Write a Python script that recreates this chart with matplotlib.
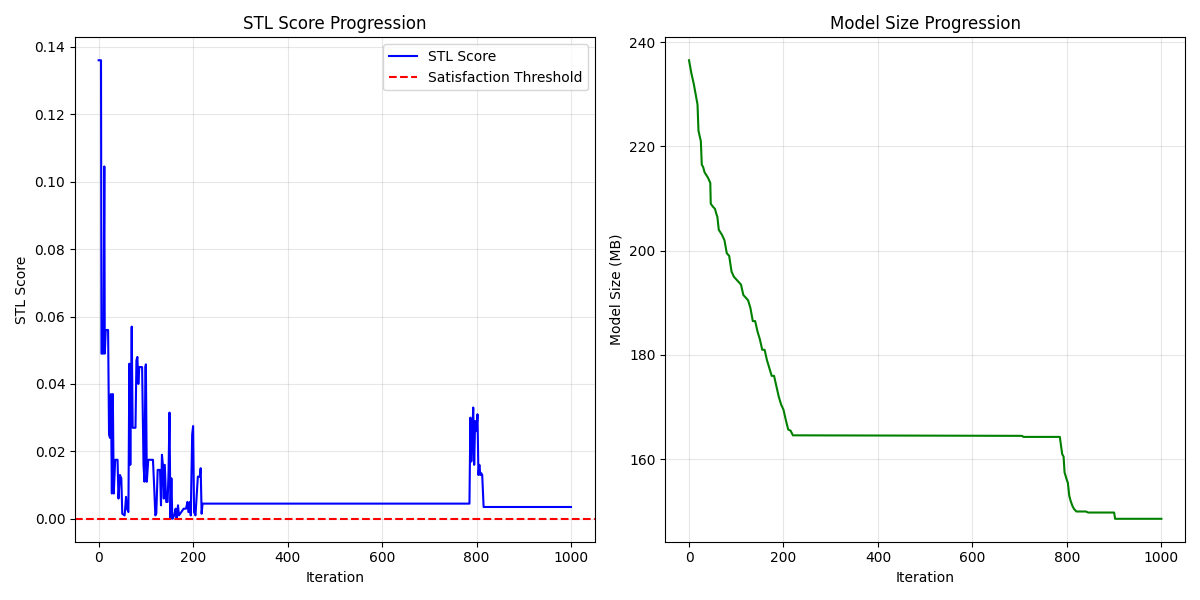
import matplotlib
matplotlib.use('Agg')
import matplotlib.pyplot as plt

# STL score breakpoints (iteration, score)
stl_iter = [0, 5, 6, 10, 12, 13, 15, 20, 22, 24, 26, 28, 30, 32, 35, 40, 42, 45, 48, 50, 55, 58, 60, 63,
            65, 67, 70, 72, 78, 80, 82, 84, 86, 92, 95, 97, 99, 100, 102, 105, 115, 118, 120, 122, 125,
            130, 132, 134, 136, 138, 140, 143, 146, 148, 150, 152, 154, 156, 160, 163, 165, 168, 170,
            180, 185, 188, 190, 193, 195, 198, 200, 202, 205, 210, 214, 216, 218, 220,
            785, 787, 789, 791, 793, 795, 797, 800, 802, 804, 806, 808, 810, 812, 815, 1000]
stl_val = [0.136, 0.136, 0.049, 0.049, 0.1045, 0.049, 0.056, 0.056, 0.025, 0.024, 0.037, 0.0075, 0.037,
           0.0075, 0.0175, 0.0175, 0.006, 0.013, 0.012, 0.0015, 0.001, 0.0065, 0.003, 0.002,
           0.046, 0.016, 0.057, 0.027, 0.027, 0.047, 0.048, 0.040, 0.045, 0.045, 0.016, 0.011, 0.045,
           0.0458, 0.011, 0.0175, 0.0175, 0.008, 0.001, 0.0015, 0.0145, 0.0145, 0.004, 0.019, 0.016,
           0.006, 0.016, 0.005, 0.005, 0.014, 0.0315, 0.0, 0.012, 0.0, 0.001, 0.003, 0.0, 0.004, 0.001,
           0.003, 0.003, 0.005, 0.002, 0.005, 0.001, 0.025, 0.0275, 0.002, 0.001, 0.0125, 0.0125, 0.015,
           0.0015, 0.0045, 0.0045, 0.03, 0.017, 0.025, 0.033, 0.016, 0.029, 0.026, 0.031, 0.013, 0.016,
           0.013, 0.0135, 0.013, 0.0035, 0.0035]

# model size breakpoints (iteration, MB)
size_iter = [0, 5, 10, 15, 18, 20, 25, 27, 30, 33, 40, 45, 46, 50, 55, 58, 60, 63, 70, 75, 80, 85, 90,
             95, 105, 110, 115, 120, 125, 130, 135, 140, 145, 150, 155, 160, 165, 170, 175, 180, 185,
             190, 195, 200, 205, 210, 215, 220, 705, 708, 785, 790, 793, 795, 800, 802, 805, 808, 812,
             815, 820, 840, 845, 900, 902, 1000]
size_val = [236.5, 234, 232, 229.5, 228, 223, 221, 216.5, 216, 215, 214, 213, 209, 208.5, 208, 207,
            206.5, 204, 203, 202, 199.5, 199, 196, 195, 194, 193.5, 191.5, 191, 190.5, 189, 186.5,
            186.5, 184.5, 183, 181, 181, 179, 177.5, 176, 176, 174, 172, 170.5, 169.5, 167.5, 165.7,
            165.5, 164.6, 164.5, 164.3, 164.3, 161, 160.5, 157.5, 156, 155.5, 153, 152, 151, 150.5,
            150, 150, 149.8, 149.8, 148.6, 148.6]
threshold = 0.0

fig, (ax1, ax2) = plt.subplots(1, 2, figsize=(12, 6), dpi=100)

ax1.plot(stl_iter, stl_val, color='blue', label='STL Score')
ax1.axhline(threshold, color='red', linestyle='--', label='Satisfaction Threshold')
ax1.set_title('STL Score Progression')
ax1.set_xlabel('Iteration')
ax1.set_ylabel('STL Score')
ax1.grid(True, alpha=0.3)
ax1.legend()

ax2.plot(size_iter, size_val, color='green')
ax2.set_title('Model Size Progression')
ax2.set_xlabel('Iteration')
ax2.set_ylabel('Model Size (MB)')
ax2.grid(True, alpha=0.3)

plt.tight_layout()
plt.savefig('out.png')
